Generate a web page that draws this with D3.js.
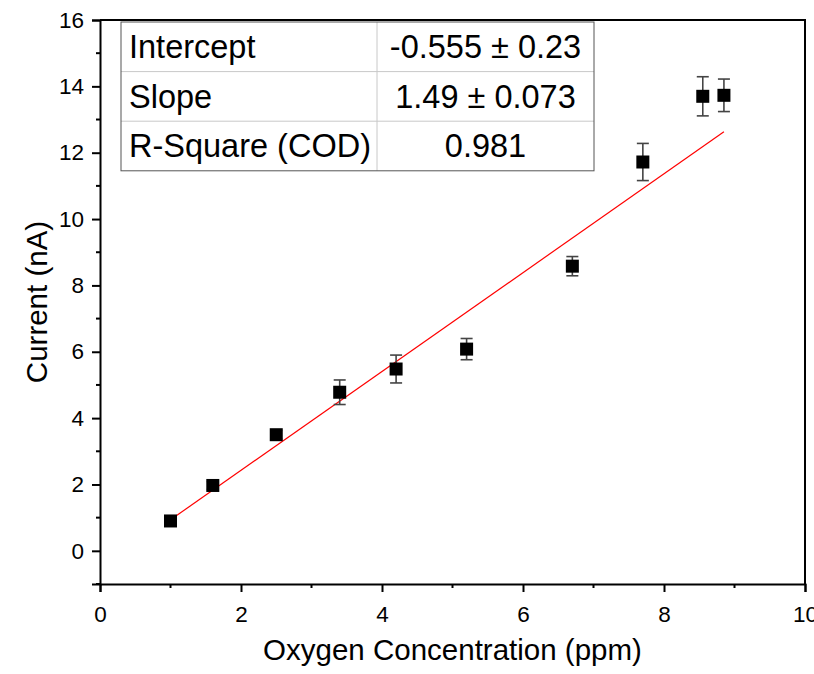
<!DOCTYPE html>
<html>
<head>
<meta charset="utf-8">
<script src="https://cdn.jsdelivr.net/npm/d3@7"></script>
<style>
  body { margin: 0; background: #fff; }
  svg text { font-family: Arial, 'Liberation Sans', sans-serif; fill: #000; }
</style>
</head>
<body>
<div id="chart"></div>
<script>
// measured points (ppm vs nA)
const concentration = [1.0, 1.6, 2.5, 3.4, 4.2, 5.2, 6.7, 7.7, 8.55, 8.85];
const current = [0.9, 1.97, 3.5, 4.78, 5.48, 6.08, 8.58, 11.72, 13.7, 13.73];
const currentErr = [0.1, 0.12, 0.13, 0.37, 0.42, 0.32, 0.29, 0.56, 0.59, 0.49];

// linear fit results
const fitIntercept = -0.555;
const fitSlope = 1.49;
const fitRange = [1.0, 8.85];
const statNames = ['Intercept', 'Slope', 'R-Square (COD)'];
const statValues = ['-0.555 \u00b1 0.23', '1.49 \u00b1 0.073', '0.981'];

const xTicks = [0, 2, 4, 6, 8, 10];
const xMinor = [1, 3, 5, 7, 9];
const yTicks = [0, 2, 4, 6, 8, 10, 12, 14, 16];
const yMinor = [-1, 1, 3, 5, 7, 9, 11, 13, 15];

const width = 814, height = 674;
const margin = { top: 20, right: 9, bottom: 90, left: 100 };

const svg = d3.select('#chart').append('svg')
  .attr('width', width)
  .attr('height', height);

const x = d3.scaleLinear().domain([0, 10]).range([margin.left, width - margin.right]);
const y = d3.scaleLinear().domain([-1, 16]).range([height - margin.bottom, margin.top]);

const tickFont = '22.5px';

// frame (top + right)
svg.append('path')
  .attr('d', `M${x(0)},${y(16)}H${x(10)}V${y(-1)}`)
  .attr('fill', 'none')
  .attr('stroke', '#000')
  .attr('stroke-width', 2);

// x axis
const xAxis = svg.append('g')
  .attr('transform', `translate(0,${y(-1)})`)
  .call(d3.axisBottom(x).tickValues(xTicks).tickSize(8).tickPadding(14).tickFormat(d3.format('d')));
xAxis.append('g').selectAll('line').data(xMinor).join('line')
  .attr('x1', d => x(d)).attr('x2', d => x(d))
  .attr('y1', 0).attr('y2', 4)
  .attr('stroke', '#000').attr('stroke-width', 2);

// y axis
const yAxis = svg.append('g')
  .attr('transform', `translate(${x(0)},0)`)
  .call(d3.axisLeft(y).tickValues(yTicks).tickSize(8).tickPadding(8).tickFormat(d3.format('d')));
yAxis.append('g').selectAll('line').data(yMinor).join('line')
  .attr('y1', d => y(d)).attr('y2', d => y(d))
  .attr('x1', 0).attr('x2', -4)
  .attr('stroke', '#000').attr('stroke-width', 2);

[xAxis, yAxis].forEach(a => {
  a.select('.domain').attr('stroke-width', 2);
  a.selectAll('.tick line').attr('stroke-width', 2);
  a.selectAll('.tick text').style('font-size', tickFont).attr('fill', '#000');
});

// axis titles
svg.append('text')
  .attr('x', (x(0) + x(10)) / 2)
  .attr('y', 660)
  .attr('text-anchor', 'middle')
  .style('font-size', '29.5px')
  .text('Oxygen Concentration (ppm)');

svg.append('text')
  .attr('transform', `translate(47,${(y(-1) + y(16)) / 2}) rotate(-90)`)
  .attr('text-anchor', 'middle')
  .style('font-size', '29.5px')
  .text('Current (nA)');

// fit line
svg.append('line')
  .attr('x1', x(fitRange[0])).attr('y1', y(fitIntercept + fitSlope * fitRange[0]))
  .attr('x2', x(fitRange[1])).attr('y2', y(fitIntercept + fitSlope * fitRange[1]))
  .attr('stroke', '#ff0000')
  .attr('stroke-width', 1.2);

// error bars
const pts = concentration.map((c, i) => ({ c, v: current[i], e: currentErr[i] }));
const err = svg.append('g').attr('stroke', '#444').attr('stroke-width', 1.6);
pts.forEach(p => {
  err.append('line')
    .attr('x1', x(p.c)).attr('x2', x(p.c))
    .attr('y1', y(p.v - p.e)).attr('y2', y(p.v + p.e));
  [p.v - p.e, p.v + p.e].forEach(v => {
    err.append('line')
      .attr('x1', x(p.c) - 6).attr('x2', x(p.c) + 6)
      .attr('y1', y(v)).attr('y2', y(v));
  });
});

// markers
const sq = 13;
svg.append('g').selectAll('rect').data(pts).join('rect')
  .attr('x', d => x(d.c) - sq / 2)
  .attr('y', d => y(d.v) - sq / 2)
  .attr('width', sq).attr('height', sq)
  .attr('fill', '#000');

// stats table
const tbl = { left: 121, top: 22, mid: 377, right: 594, row: 49.6 };
const tg = svg.append('g');
tg.append('rect')
  .attr('x', tbl.left).attr('y', tbl.top)
  .attr('width', tbl.right - tbl.left).attr('height', tbl.row * statNames.length)
  .attr('fill', '#fff');
for (let i = 1; i < statNames.length; i++) {
  tg.append('line')
    .attr('x1', tbl.left).attr('x2', tbl.right)
    .attr('y1', tbl.top + tbl.row * i).attr('y2', tbl.top + tbl.row * i)
    .attr('stroke', '#c8c8c8').attr('stroke-width', 1);
}
tg.append('line')
  .attr('x1', tbl.mid).attr('x2', tbl.mid)
  .attr('y1', tbl.top).attr('y2', tbl.top + tbl.row * statNames.length)
  .attr('stroke', '#c8c8c8').attr('stroke-width', 1);
tg.append('rect')
  .attr('x', tbl.left).attr('y', tbl.top)
  .attr('width', tbl.right - tbl.left).attr('height', tbl.row * statNames.length)
  .attr('fill', 'none')
  .attr('stroke', '#555').attr('stroke-width', 1);

statNames.forEach((name, i) => {
  tg.append('text')
    .attr('x', tbl.left + 8)
    .attr('y', tbl.top + tbl.row * i + 36)
    .style('font-size', '32.5px')
    .text(name);
  tg.append('text')
    .attr('x', (tbl.mid + tbl.right) / 2)
    .attr('y', tbl.top + tbl.row * i + 36)
    .attr('text-anchor', 'middle')
    .style('font-size', '32.5px')
    .text(statValues[i]);
});
</script>
</body>
</html>
